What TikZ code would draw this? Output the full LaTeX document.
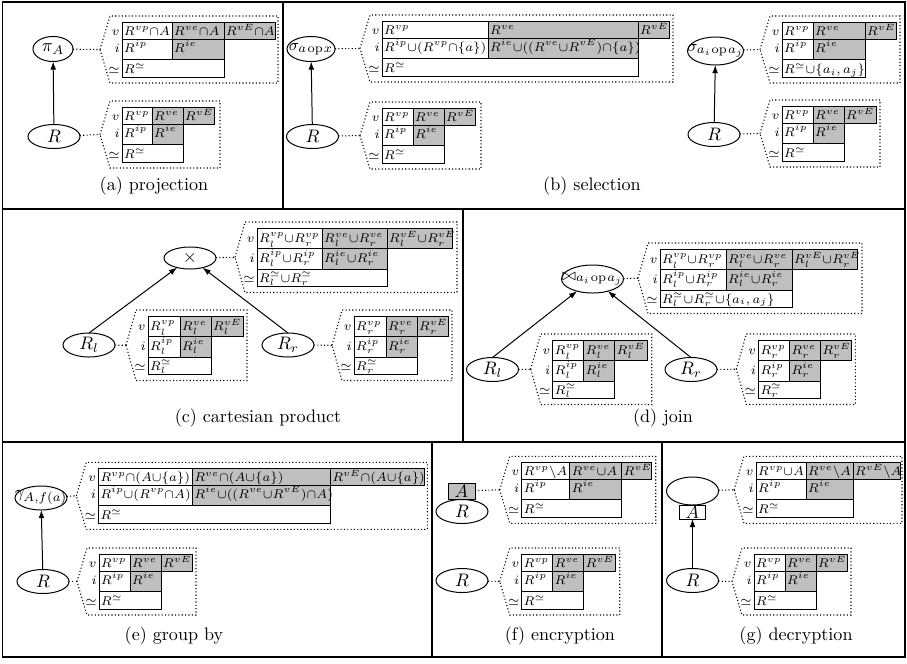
\documentclass[tikz,border=0pt]{standalone}
\usepackage{amsmath,amssymb}
\usetikzlibrary{shapes.geometric,calc,arrows.meta}
\definecolor{cellgray}{gray}{0.75}
\def\pxu{0.553pt}
\def\Ha{17.5}\def\Hb{20}\def\Hc{17.5}
\def\Ba{13.5}\def\Bb{12.5}\def\Bc{14}
\newcommand\tabfont{\fontsize{7.35}{8.5}\selectfont}
\newcommand\opfont{\fontsize{9.4}{11}\selectfont}
\tikzset{
  cellbox/.style={draw,line width=0.45pt,inner sep=0pt,outer sep=0pt,rectangle},
  celltext/.style={inner sep=0pt,font=\tabfont},
  lbl/.style={inner sep=0pt,font=\tabfont},
  dots/.style={line width=0.6pt,dash pattern=on 0.6pt off 1.25pt},
  ell/.style={ellipse,draw,line width=0.55pt,inner sep=0pt,outer sep=0pt},
  opl/.style={inner sep=0pt},
  opls/.style={inner sep=0pt,font=\opfont},
  arr/.style={line width=0.55pt,-{Latex[length=4.5pt,width=3.2pt]}},
  frame/.style={line width=1.1pt},
  capt/.style={inner sep=0pt,font=\normalsize},
  abox/.style={draw,line width=0.55pt,inner sep=0pt,outer sep=0pt},
}
\newcommand\mycell[8]{%
  \node[cellbox,fill=#2,minimum width=#5*\pxu,minimum height=#6*\pxu,anchor=north west] (#1) at (#3,#4) {};
  \node[celltext,anchor=base west] (#1t) at ($(#1.north west)+(1.6,#7)$) {$#8$};%
}
\newcommand\mytabv[9]{%
  \pgfmathsetmacro\Xa{#2}%
  \pgfmathsetmacro\Xb{#2+#4}%
  \pgfmathsetmacro\Xc{#2+#4+#5}%
  \pgfmathsetmacro\Xd{#2+#4+#5+#6}%
  \pgfmathsetmacro\Ya{#3}%
  \pgfmathsetmacro\Yb{#3+\Ha}%
  \pgfmathsetmacro\Yc{#3+\Ha+\Hb}%
  \pgfmathsetmacro\Yd{#3+\Ha+\Hb+\Hc}%
  \pgfmathsetmacro\Wab{#4+#5}%
  \edef\Wa{#4}\edef\Wb{#5}%
  \mycell{#1-v1}{white}{\Xa}{\Ya}{#4}{\Ha}{\Ba}{#7}%
  \mycell{#1-v2}{cellgray}{\Xb}{\Ya}{#5}{\Ha}{\Ba}{#8}%
  \mycell{#1-v3}{cellgray}{\Xc}{\Ya}{#6}{\Ha}{\Ba}{#9}%
  \node[lbl,anchor=base east] (#1-lv) at ($(\Xa,\Ya)+(-2,\Ba)$) {$v$};%
}
\newcommand\mytabi[6]{%
  \mycell{#1-i1}{white}{\Xa}{\Yb}{\Wa}{\Hb}{\Bb}{#3}%
  \mycell{#1-i2}{cellgray}{\Xb}{\Yb}{\Wb}{\Hb}{\Bb}{#4}%
  \mycell{#1-s}{white}{\Xa}{\Yc}{\Wab}{\Hc}{\Bc}{#5}%
  \node[lbl,anchor=base east] (#1-li) at ($(\Xa,\Yb)+(-2,\Bb)$) {$i$};%
  \node[lbl,anchor=base east] (#1-ls) at ($(\Xa,\Yc)+(-2,\Bc)$) {$\simeq$};%
  \pgfmathsetmacro\Cl{\Xa-12}%
  \pgfmathsetmacro\Ct{\Xa-22}%
  \pgfmathsetmacro\Cr{\Xd+#6}%
  \pgfmathsetmacro\Cu{\Ya-6}%
  \pgfmathsetmacro\Cd{\Yd+6}%
  \pgfmathsetmacro\Cm{(\Ya+\Yd)/2}%
  \coordinate (#1-tip) at (\Ct,\Cm);%
  \draw[dots] (#1-tip) -- (\Cl,\Cu) -- (\Cr,\Cu) -- (\Cr,\Cd) -- (\Cl,\Cd) -- cycle;%
  \draw[dots] (#2) -- (#1-tip);%
}
\begin{document}
\begin{tikzpicture}[x=0.553pt,y=-0.553pt]
\useasboundingbox (0,0) rectangle (907,663);
% frame
\draw[frame] (2.5,1.5) rectangle (905,657);
\draw[frame] (2.5,209) -- (905,209);
\draw[frame] (2.5,442) -- (905,442);
\draw[frame] (283,1.5) -- (283,209);
\draw[frame] (463,209) -- (463,442);
\draw[frame] (432,442) -- (432,657);
\draw[frame] (662,442) -- (662,657);

% ---------- (a) projection
\node[ell,minimum width=40*\pxu,minimum height=25*\pxu] (pi) at (53,49) {};
\node[opl] (pit) at (pi) {$\pi_A$};
\node[ell,minimum width=52*\pxu,minimum height=24*\pxu] (Ra) at (54,136.5) {};
\node[opl] (Rat) at (Ra) {$R$};
\draw[arr] (Ra) -- (pi);
\mytabv{ta}{122}{22}{50}{52}{51}{R^{vp}{\cap}A}{R^{ve}{\cap}A}{R^{vE}{\cap}A}
\mytabi{ta}{pi}{R^{ip}}{R^{ie}}{R^{\simeq}}{3}
\mytabv{tb}{122}{107}{30}{31}{31}{R^{vp}}{R^{ve}}{R^{vE}}
\mytabi{tb}{Ra}{R^{ip}}{R^{ie}}{R^{\simeq}}{6}
\node[capt] (capa) at (154,186) {(a) projection};

% ---------- (b) selection
\node[ell,minimum width=48*\pxu,minimum height=25*\pxu] (sig) at (311,49) {};
\node[opls] (sigt) at (sig) {$\sigma_{a\mkern1.5mu\mathrm{op}\mkern1.5mu x}$};
\node[ell,minimum width=52*\pxu,minimum height=24*\pxu] (Rb) at (312.5,136.5) {};
\node[opl] (Rbt) at (Rb) {$R$};
\draw[arr] (Rb) -- (sig);
\mytabv{tc}{382}{21}{106}{150}{31}{R^{vp}}{R^{ve}}{R^{vE}}
\mytabi{tc}{sig}{R^{ip}{\cup}(R^{vp}{\cap}\{a\})}{R^{ie}{\cup}((R^{ve}{\cup}R^{vE}){\cap}\{a\})}{R^{\simeq}}{4}
\mytabv{td}{382}{108}{31}{31}{31}{R^{vp}}{R^{ve}}{R^{vE}}
\mytabi{td}{Rb}{R^{ip}}{R^{ie}}{R^{\simeq}}{6}
\node[ell,minimum width=56*\pxu,minimum height=28*\pxu] (sigij) at (715.5,51) {};
\node[opls] (sigijt) at (sigij) {$\sigma_{a_i\mkern1.5mu\mathrm{op}\mkern1.5mu a_j}$};
\node[ell,minimum width=52*\pxu,minimum height=24*\pxu] (Rb2) at (714,134.5) {};
\node[opl] (Rb2t) at (Rb2) {$R$};
\draw[arr] (Rb2) -- (sigij);
\mytabv{te}{782}{22}{31}{52}{31}{R^{vp}}{R^{ve}}{R^{vE}}
\mytabi{te}{sigij}{R^{ip}}{R^{ie}}{R^{\simeq}{\cup}\{a_i,a_j\}}{4}
\mytabv{tf}{782}{106}{31}{31}{32}{R^{vp}}{R^{ve}}{R^{vE}}
\mytabi{tf}{Rb2}{R^{ip}}{R^{ie}}{R^{\simeq}}{4}
\node[capt] (capb) at (592,186) {(b) selection};

% ---------- (c) cartesian product
\def\Ha{20}\def\Hb{21.5}\def\Hc{17}
\def\Ba{14.5}\def\Bb{14}\def\Bc{12.5}
\node[ell,minimum width=52*\pxu,minimum height=22*\pxu] (times) at (190,258) {};
\node[opl] (timest) at (times) {$\times$};
\node[ell,minimum width=52*\pxu,minimum height=24*\pxu] (Rlc) at (89,345) {};
\node[opl] (Rlct) at (Rlc) {$R_l$};
\node[ell,minimum width=52*\pxu,minimum height=24*\pxu] (Rrc) at (288,345) {};
\node[opl] (Rrct) at (Rrc) {$R_r$};
\draw[arr] (Rlc.north) -- (times);
\draw[arr] (Rrc.north) -- (times);
\mytabv{tg}{257}{228}{65}{65}{65}{R_l^{vp}{\cup}R_r^{vp}}{R_l^{ve}{\cup}R_r^{ve}}{R_l^{vE}{\cup}R_r^{vE}}
\mytabi{tg}{times}{R_l^{ip}{\cup}R_r^{ip}}{R_l^{ie}{\cup}R_r^{ie}}{R_l^{\simeq}{\cup}R_r^{\simeq}}{5}
\mytabv{th}{148}{316}{32}{31}{32}{R_l^{vp}}{R_l^{ve}}{R_l^{vE}}
\mytabi{th}{Rlc}{R_l^{ip}}{R_l^{ie}}{R_l^{\simeq}}{4}
\mytabv{ti}{354}{316}{32}{31}{31}{R_r^{vp}}{R_r^{ve}}{R_r^{vE}}
\mytabi{ti}{Rrc}{R_r^{ip}}{R_r^{ie}}{R_r^{\simeq}}{4}
\node[capt] (capc) at (258,418) {(c) cartesian product};

% ---------- (d) join
\node[ell,minimum width=62*\pxu,minimum height=28*\pxu] (join) at (592.5,279) {};
\node[opls] (joint) at (join) {$\bowtie_{a_i\mkern1.5mu\mathrm{op}\mkern1.5mu a_j}$};
\node[ell,minimum width=52*\pxu,minimum height=24*\pxu] (Rld) at (492.5,369.5) {};
\node[opl] (Rldt) at (Rld) {$R_l$};
\node[ell,minimum width=52*\pxu,minimum height=24*\pxu] (Rrd) at (691,369.5) {};
\node[opl] (Rrdt) at (Rrd) {$R_r$};
\draw[arr] (Rld.north) -- (join);
\draw[arr] (Rrd.north) -- (join);
\mytabv{tj}{660}{249}{66}{66}{65}{R_l^{vp}{\cup}R_r^{vp}}{R_l^{ve}{\cup}R_r^{ve}}{R_l^{vE}{\cup}R_r^{vE}}
\mytabi{tj}{join}{R_l^{ip}{\cup}R_r^{ip}}{R_l^{ie}{\cup}R_r^{ie}}{R_l^{\simeq}{\cup}R_r^{\simeq}{\cup}\{a_i,a_j\}}{5}
\mytabv{tk}{552.7}{340}{31}{31}{33}{R_l^{vp}}{R_l^{ve}}{R_l^{vE}}
\mytabi{tk}{Rld}{R_l^{ip}}{R_l^{ie}}{R_l^{\simeq}}{4}
\mytabv{tl}{758.3}{340}{31}{31}{31}{R_r^{vp}}{R_r^{ve}}{R_r^{vE}}
\mytabi{tl}{Rrd}{R_r^{ip}}{R_r^{ie}}{R_r^{\simeq}}{4}
\node[capt] (capd) at (663,418) {(d) join};

% ---------- (e) group by
\def\Ha{17.5}\def\Hb{20}\def\Hc{17.5}
\def\Ba{13.5}\def\Bb{12.5}\def\Bc{14}
\node[ell,minimum width=52*\pxu,minimum height=24*\pxu] (gam) at (41,498) {};
\node[opls] (gamt) at (gam) {$\gamma_{A,f(a)}$};
\node[ell,minimum width=52*\pxu,minimum height=24*\pxu] (Re) at (43,581.5) {};
\node[opl] (Ret) at (Re) {$R$};
\draw[arr] (Re) -- (gam);
\mytabv{tm}{98.3}{468.3}{94}{138}{94}{R^{vp}{\cap}(A{\cup}\{a\})}{R^{ve}{\cap}(A{\cup}\{a\})}{R^{vE}{\cap}(A{\cup}\{a\})}
\mytabi{tm}{gam}{R^{ip}{\cup}(R^{vp}{\cap}A)}{R^{ie}{\cup}((R^{ve}{\cup}R^{vE}){\cap}A)}{R^{\simeq}}{3}
\mytabv{tn}{99}{554}{31}{31}{31}{R^{vp}}{R^{ve}}{R^{vE}}
\mytabi{tn}{Re}{R^{ip}}{R^{ie}}{R^{\simeq}}{4}
\node[capt] (cape) at (174,636) {(e) group by};

% ---------- (f) encryption
\node[abox,fill=cellgray,minimum width=27*\pxu,minimum height=16*\pxu] (Af) at (461.5,491) {};
\node[opl] (Aft) at (Af) {$A$};
\node[ell,minimum width=52*\pxu,minimum height=24*\pxu] (Rf) at (462,511.5) {};
\node[opl] (Rft) at (Rf) {$R$};
\node[ell,minimum width=52*\pxu,minimum height=24*\pxu] (Rf2) at (462,580.5) {};
\node[opl] (Rf2t) at (Rf2) {$R$};
\mytabv{to}{521.7}{462.3}{48}{52}{30}{R^{vp}{\setminus}A}{R^{ve}{\cup}A}{R^{vE}}
\mytabi{to}{Af}{R^{ip}}{R^{ie}}{R^{\simeq}}{4}
\mytabv{tp}{521.7}{554}{31}{31}{32}{R^{vp}}{R^{ve}}{R^{vE}}
\mytabi{tp}{Rf2}{R^{ip}}{R^{ie}}{R^{\simeq}}{4}
\node[capt] (capf) at (560,636) {(f) encryption};

% ---------- (g) decryption
\node[ell,minimum width=52*\pxu,minimum height=28*\pxu] (eg) at (692.5,491) {};
\node[abox,fill=white,minimum width=26*\pxu,minimum height=14*\pxu] (Ag) at (692.5,512) {};
\node[opl] (Agt) at (Ag) {$A$};
\node[ell,minimum width=52*\pxu,minimum height=24*\pxu] (Rg) at (692.5,580.5) {};
\node[opl] (Rgt) at (Rg) {$R$};
\draw[arr] (Rg) -- (Ag);
\mytabv{tq}{756}{462.3}{50}{47}{47}{R^{vp}{\cup}A}{R^{ve}{\setminus}A}{R^{vE}{\setminus}A}
\mytabi{tq}{eg}{R^{ip}}{R^{ie}}{R^{\simeq}}{2}
\mytabv{tr}{754}{554}{31}{31}{31}{R^{vp}}{R^{ve}}{R^{vE}}
\mytabi{tr}{Rg}{R^{ip}}{R^{ie}}{R^{\simeq}}{4}
\node[capt] (capg) at (796,636) {(g) decryption};
\end{tikzpicture}
\end{document}
